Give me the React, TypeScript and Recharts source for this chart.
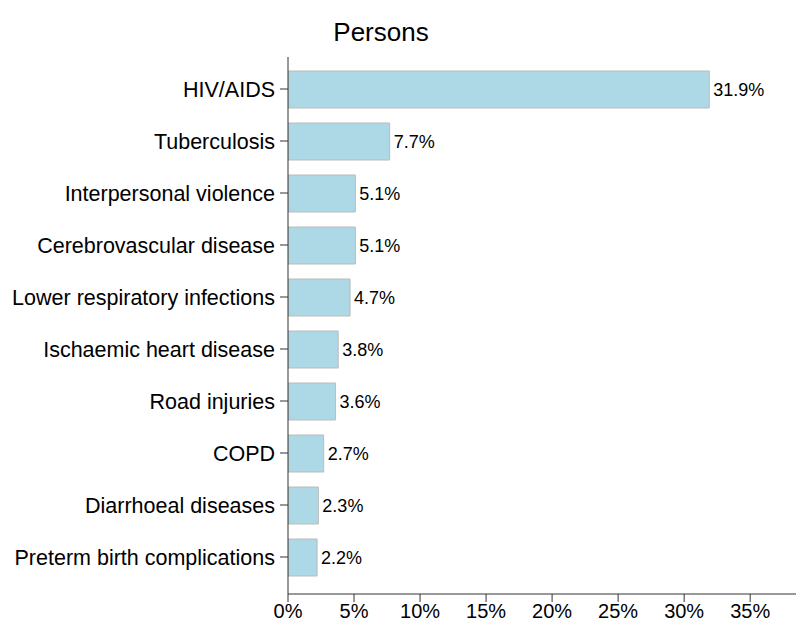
import React from 'react';
import { BarChart, Bar, XAxis, YAxis, LabelList } from 'recharts';

const causes = [
  'HIV/AIDS',
  'Tuberculosis',
  'Interpersonal violence',
  'Cerebrovascular disease',
  'Lower respiratory infections',
  'Ischaemic heart disease',
  'Road injuries',
  'COPD',
  'Diarrhoeal diseases',
  'Preterm birth complications',
];
const shares = [31.9, 7.7, 5.1, 5.1, 4.7, 3.8, 3.6, 2.7, 2.3, 2.2];
const xTicks = [0, 5, 10, 15, 20, 25, 30, 35];

const data = causes.map((name, i) => ({ name, value: shares[i] }));

const font = '"Liberation Sans", Arial, sans-serif';

const App: React.FC = () => {
  return (
    <div style={{ position: 'relative', width: 796, height: 618, fontFamily: font }}>
      <div
        style={{
          position: 'absolute',
          left: 373 - 100,
          width: 200,
          top: 9,
          textAlign: 'center',
          fontSize: 26,
          color: '#000',
        }}
      >
        Persons
      </div>
      <BarChart
        width={796}
        height={618}
        data={data}
        layout="vertical"
        margin={{ top: 49, right: 1, bottom: 2, left: 0 }}
      >
        <XAxis
          type="number"
          domain={[0, 39]}
          ticks={xTicks}
          allowDataOverflow
          tickFormatter={(v: number) => `${v}%`}
          stroke="#333"
          tickSize={8}
          tickMargin={2}
          height={30}
          tick={{ fill: '#000', fontSize: 20, fontFamily: font }}
        />
        <YAxis
          type="category"
          dataKey="name"
          width={280}
          stroke="#333"
          tickSize={8}
          tickMargin={5}
          padding={{ top: 6, bottom: 11 }}
          interval={0}
          tick={{ fill: '#000', fontSize: 21.5, fontFamily: font }}
        />
        <Bar dataKey="value" fill="#ADD8E6" stroke="#bbbbbb" strokeWidth={1} barSize={37} isAnimationActive={false}>
          <LabelList
            dataKey="value"
            position="right"
            offset={4}
            formatter={(v: number) => `${v}%`}
            style={{ fill: '#000', fontSize: 18, fontFamily: font }}
          />
        </Bar>
      </BarChart>
    </div>
  );
};

export default App;
